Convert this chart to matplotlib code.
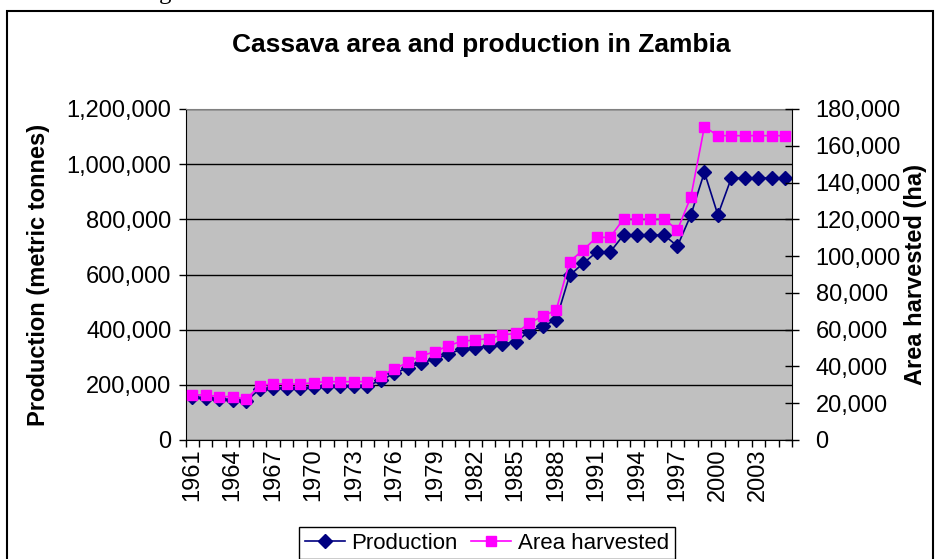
import matplotlib
matplotlib.use('Agg')
import matplotlib.pyplot as plt
import matplotlib.patches as patches
from matplotlib.ticker import FuncFormatter, FixedLocator
import numpy as np

plt.rcParams['font.family'] = ['Liberation Sans', 'DejaVu Sans']

years = list(range(1961, 2006))
production = [155000, 153000, 149000, 146000, 140000, 185000, 188000, 188000, 188000, 191000,
              197000, 197000, 197000, 197000, 216000, 242000, 262000, 280000, 293000, 312000,
              329000, 334000, 341000, 348000, 356000, 393000, 413000, 435000, 597000, 640000,
              681000, 681000, 743000, 743000, 743000, 743000, 703000, 816000, 971000, 816000,
              950000, 950000, 950000, 950000, 950000]
area = [24500, 24500, 23600, 23600, 22100, 29500, 30600, 30400, 30400, 31200,
        31700, 31700, 31700, 31700, 35000, 38600, 42300, 45800, 48000, 51300,
        53700, 54400, 55100, 57100, 58000, 63500, 67400, 70500, 97000, 103300,
        110200, 110200, 120200, 120200, 120200, 120200, 114200, 132300, 170400, 165500,
        165500, 165500, 165500, 165500, 165500]
tick_years = years[::3]

W, H = 938, 559
fig = plt.figure(figsize=(W / 100, H / 100), dpi=100)

# outer chart frame (bottom runs off the image)
fig.patches.append(patches.Rectangle((7 / W, -0.1), (933 - 7) / W, 1.1 - 11 / H,
                                     transform=fig.transFigure, fill=False,
                                     edgecolor='black', linewidth=1.5))
# descender of caption text above the chart
fig.text(165 / W, 1.0 + 1 / H, 'g', fontsize=18, family='Liberation Serif',
         ha='center', va='baseline')

left, right, top, bottom = 185.5, 792, 109, 440
ax = fig.add_axes([left / W, 1 - bottom / H, (right - left) / W, (bottom - top) / H])
ax2 = ax.twinx()

x = np.arange(len(years))
ax.plot(x, production, color='#000080', lw=1.2, marker='D', ms=7, label='Production')
ax2.plot(x, area, color='#FF00FF', lw=1.2, marker='s', ms=6.5, label='Area harvested')

ax.set_facecolor('#C0C0C0')
ax.set_xlim(-0.5, len(years) - 0.5)
ax.set_ylim(0, 1200000)
ax2.set_ylim(0, 180000)
ax.set_yticks(np.arange(0, 1200001, 200000))
ax2.set_yticks(np.arange(0, 180001, 20000))
fmt = FuncFormatter(lambda v, p: f'{int(v):,}')
ax.yaxis.set_major_formatter(fmt)
ax2.yaxis.set_major_formatter(fmt)

ax.set_xticks([years.index(y) for y in tick_years])
ax.set_xticklabels([str(y) for y in tick_years], rotation=90)
ax.xaxis.set_minor_locator(FixedLocator(np.arange(-0.5, len(years), 1)))
ax.tick_params(axis='x', which='major', length=0, pad=6, labelsize=17)
ax.tick_params(axis='x', which='minor', length=5, width=1, direction='out')
ax.tick_params(axis='y', length=5, width=1, direction='out', pad=5, labelsize=17)
ax2.tick_params(axis='y', length=10, width=1, direction='inout', pad=12, labelsize=17)

ax.grid(axis='y', color='black', lw=1)
ax.set_axisbelow(True)

ax.spines['top'].set_color('#808080')
ax.spines['right'].set_visible(False)
for s in ['left', 'top', 'bottom']:
    ax2.spines[s].set_visible(False)

fig.text(481 / W, 1 - 45 / H, 'Cassava area and production in Zambia', fontsize=19,
         fontweight='bold', ha='center', va='center')

ax.set_ylabel('Production (metric tonnes)', fontsize=17, fontweight='bold')
ax.yaxis.set_label_coords((50 - left) / (right - left), 0.5)
ax2.set_ylabel('Area harvested (ha)', fontsize=17, fontweight='bold', rotation=90)
ax2.yaxis.set_label_coords((904 - left) / (right - left), 0.5)

h1, l1 = ax.get_legend_handles_labels()
h2, l2 = ax2.get_legend_handles_labels()
leg = fig.legend(h1 + h2, l1 + l2, loc='upper center', bbox_to_anchor=(487 / W, 1 - 527 / H),
                 ncol=2, fontsize=16, frameon=True, fancybox=False, framealpha=1,
                 edgecolor='black', handlelength=1.8, handletextpad=0.3, columnspacing=0.6,
                 borderpad=0.25, borderaxespad=0)
leg.get_frame().set_linewidth(1)

fig.savefig('out.png', dpi=100)
